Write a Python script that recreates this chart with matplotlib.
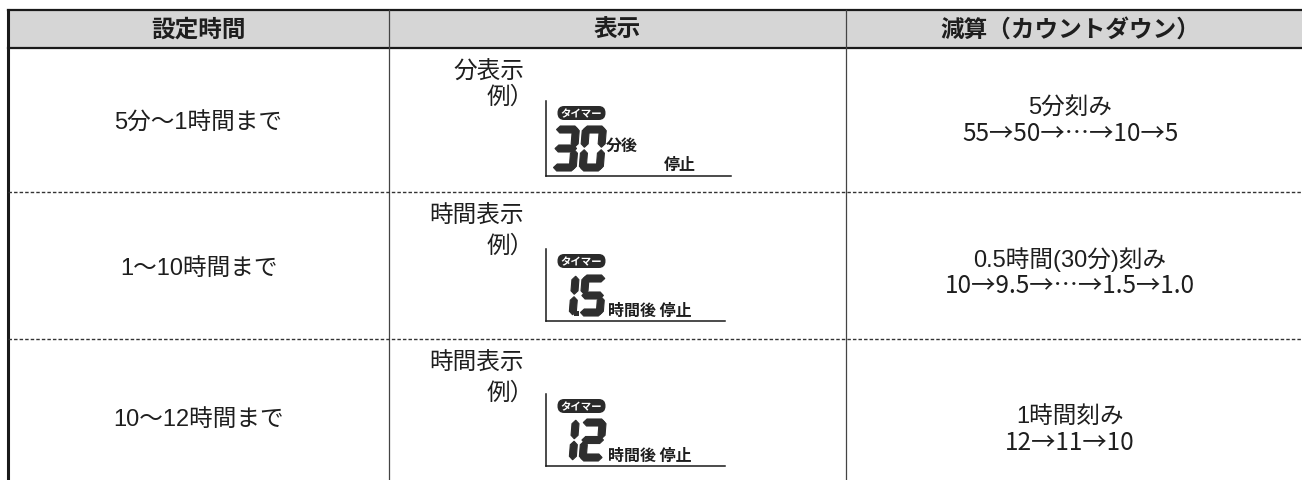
import matplotlib.pyplot as plt
from matplotlib.patches import Rectangle, Polygon, FancyBboxPatch

plt.rcParams['font.family'] = ['Liberation Sans', 'Noto Sans CJK JP', 'DejaVu Sans']
CJK = ['Noto Sans CJK JP', 'DejaVu Sans']

# table content
headers = ["設定時間", "表示", "減算（カウントダウン）"]
ranges = ["5分〜1時間まで", "1〜10時間まで", "10〜12時間まで"]
display_modes = ["分表示", "時間表示", "時間表示"]
display_digits = ["30", "1.5", "12"]
display_units = ["分後", "時間後 停止", "時間後 停止"]
steps = ["5分刻み", "0.5時間(30分)刻み", "1時間刻み"]
sequences = ["55→50→…→10→5", "10→9.5→…→1.5→1.0", "12→11→10"]

# layout (pixels)
col_x = [8, 389, 846, 1294]
row_top = [49, 193, 340]
left_y = [124, 269, 420]
step_y = [108, 260, 417]
lcd_top = [102, 250, 395]
lcd_base = [177, 322, 467]
lcd_right = [731, 725, 725]
digit_h = [45, 41, 42]

txt = '#1e1e1e'
seg_col = '#2e2e2e'

SEGS = {'0': 'abcdef', '1': 'bc', '2': 'abged', '3': 'abgcd', '5': 'afgcd'}


def seven_seg(ax, x0, ybot, ch, w=23, h=44, t=6.5, g=1.2, slant=0.08):
    def hseg(vc):
        return [(g, vc), (g + t / 2, vc + t / 2), (w - g - t / 2, vc + t / 2),
                (w - g, vc), (w - g - t / 2, vc - t / 2), (g + t / 2, vc - t / 2)]

    def vseg(uc, v0, v1):
        return [(uc, v0 + g), (uc + t / 2, v0 + g + t / 2), (uc + t / 2, v1 - g - t / 2),
                (uc, v1 - g), (uc - t / 2, v1 - g - t / 2), (uc - t / 2, v0 + g + t / 2)]

    shapes = {
        'a': hseg(h - t / 2), 'g': hseg(h / 2), 'd': hseg(t / 2),
        'b': vseg(w - t / 2, h / 2, h), 'c': vseg(w - t / 2, 0, h / 2),
        'f': vseg(t / 2, h / 2, h), 'e': vseg(t / 2, 0, h / 2),
    }
    for s in SEGS[ch]:
        pts = [(x0 + u + slant * v, ybot - v) for u, v in shapes[s]]
        ax.add_patch(Polygon(pts, closed=True, fc=seg_col, ec=seg_col, lw=0.8, zorder=3))


fig = plt.figure(figsize=(13.02, 4.81), dpi=100)
ax = fig.add_axes([0, 0, 1, 1])
ax.set_xlim(0, 1302)
ax.set_ylim(481, 0)
ax.axis('off')

# header band and grid
ax.add_patch(Rectangle((8, 11), 1302 - 8, 38, fc='#d6d6d6', ec='none', zorder=1))
ax.plot([8, 1302], [11, 11], color='#1a1a1a', lw=1.6, zorder=2)
ax.plot([8, 1302], [49, 49], color='#1a1a1a', lw=1.6, zorder=2)
ax.plot([8, 8], [11, 481], color='#1a1a1a', lw=2.2, zorder=2)
for x in col_x[1:3]:
    ax.plot([x, x], [11, 481], color='#444444', lw=0.9, zorder=2)
for y in row_top[1:]:
    ax.plot([8, 1302], [y, y], color='#333333', lw=1.0, ls=(0, (2.5, 1.5)), zorder=2)

for i, h in enumerate(headers):
    cx = (col_x[i] + col_x[i + 1]) / 2
    ax.text(cx, 30, h, ha='center', va='center', fontsize=17, fontweight='bold',
            color=txt, family=CJK)

for i in range(3):
    # left column
    ax.text((col_x[0] + col_x[1]) / 2, left_y[i], ranges[i], ha='center', va='center',
            fontsize=17, color=txt)
    # right column
    cx3 = (col_x[2] + col_x[3]) / 2
    ax.text(cx3, step_y[i], steps[i], ha='center', va='center', fontsize=17, color=txt)
    ax.text(cx3, step_y[i] + 26, sequences[i], ha='center', va='center', fontsize=17.5,
            color=txt, family=CJK)

    # display column
    top = row_top[i]
    ax.text(524, top + 23, display_modes[i], ha='right', va='center', fontsize=17,
            color=txt, family=CJK)
    ax.text(487, top + 53 if i else top + 48, "例）", ha='left', va='center', fontsize=17,
            color=txt, family=CJK)

    ax.plot([546, 546], [lcd_top[i], lcd_base[i]], color='#1a1a1a', lw=1.1, zorder=2)
    ax.plot([546, lcd_right[i]], [lcd_base[i], lcd_base[i]], color='#1a1a1a', lw=1.1, zorder=2)

    pill_y = lcd_top[i] + 12
    ax.add_patch(FancyBboxPatch((560, pill_y - 4.5), 43, 9, boxstyle='round,pad=1.8,rounding_size=6',
                                fc='#2a2a2a', ec='#2a2a2a', zorder=3))
    ax.text(581.5, pill_y, "タイマー", ha='center', va='center', fontsize=7.5, fontweight='bold',
            color='white', zorder=4, family=CJK)

    ybot = lcd_base[i] - 5
    cells = [552, 579]
    digits = display_digits[i].replace('.', '')
    for k, ch in enumerate(digits):
        seven_seg(ax, cells[k], ybot, ch, w=24, h=digit_h[i], t=7)
    if '.' in display_digits[i]:
        ax.add_patch(Rectangle((574, ybot - 5.5), 5, 5.5, fc=seg_col, ec='none', zorder=3))

    if i == 0:
        ax.text(606, 146, display_units[i], ha='left', va='center', fontsize=11.5,
                fontweight='bold', color=txt, family=CJK)
        ax.text(664, 165, "停止", ha='left', va='center', fontsize=11.5,
                fontweight='bold', color=txt, family=CJK)
    else:
        ax.text(608, lcd_base[i] - 11, display_units[i], ha='left', va='center', fontsize=11.5,
                fontweight='bold', color=txt, family=CJK)

fig.savefig('out.png', dpi=100)
